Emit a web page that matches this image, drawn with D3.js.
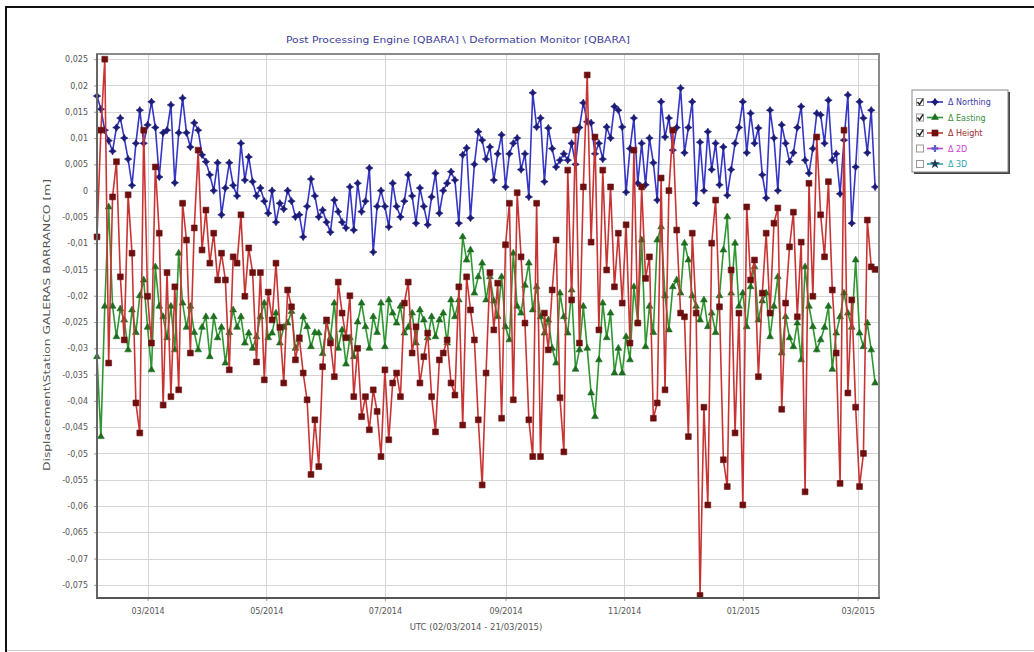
<!DOCTYPE html>
<html>
<head>
<meta charset="utf-8">
<script src="https://cdn.jsdelivr.net/npm/d3@7"></script>
<style>
body { margin: 0; background: #fff; }
svg { display: block; }
text { font-family: "DejaVu Sans", Verdana, sans-serif; }
</style>
</head>
<body>
<svg id="chart" width="1034" height="652"></svg>
<script>
// readings are every 2 days starting 03/02/2014, values in mm
var startDate = new Date(2014, 1, 3)
var stepDays = 2

var northing = [18, 15.5, 11.5, 9.5, 7.5, 12, 13.8, 10, 6, 1,
	9, 15.3, 9, 12.5, 16.9, 12, 2.6, 11, 11.5, 16.3,
	1.5, 11, 17.6, 11, 8.3, 12.9, 11.5, 6.8, 5.5, 3,
	0, 5.3, -4.6, 0.5, 5.3, 1, -1, 9, 2, 6.4,
	1.7, -1, 0.5, -2, -4.3, 0, -6, -2.4, -3.5, 0,
	-2, -5, -4.6, -8.8, -3, 2.2, -1, -5, -3.7, -6,
	-7.9, -1.8, -4, -6, -7.1, 0.7, -7.5, 1.4, -4, -2,
	4.3, -11.7, -3, 0, -3, -6.9, 1.4, -3, -5, -2,
	3, -1, -6.2, 0.5, -3, -6.5, -1.2, 3.3, -4.3, 0,
	1.4, 3.6, 2, -6.2, 6.8, 8.1, -5.2, 5, 11.2, 9.6,
	6, 8.3, 2, 7, 10.6, 0.7, 7, 9, 10, 4,
	7, -1.2, 18.6, 12.1, 13.8, 1.7, 11.9, 8, 4.5, 5.8,
	7, 5.8, 9, 5, 12, 16.7, 13.1, 12.9, 7, 9,
	6, 12.1, 10, 16, 15.3, 12.1, -0.3, 8, 13.8, 1.4,
	9, 1.1, 10, 5.3, -1.8, 16.9, 10.2, 13.8, 7.7, 12,
	19.5, 7.2, 12, 16.9, -2.4, 9.2, 0, 11.2, 4, 9,
	1.1, 8.3, -0.9, 4, 9, 12, 16.9, 7.2, 14.7, 9,
	11.9, 3, -1.4, 15.3, 10, 0, 12.5, 9, 5.5, 7.2,
	12, 16, 5.8, 3.3, 8, 14.7, 14.4, 9, 17.2, 5.8,
	7, -0.6, 9.6, 18.2, -6.2, 4.5, 16.9, 13.8, 7.2, 15.3,
	0.7]

var easting = [-31.6, -46.8, -22, -3.1, -22, -27.8, -22.5, -24.6, -30.3, -22.7,
	-27, -20, -17, -26, -34.1, -14.5, -22, -24, -28, -22,
	-30.3, -11.9, -21.4, -26, -22, -27, -30.3, -26, -24, -31.6,
	-24, -28, -26, -32.8, -27, -22.7, -26, -24, -29, -27.1,
	-30, -27.8, -24, -21.4, -28, -27.1, -23.3, -29, -26, -25.2,
	-23, -30, -28.4, -24, -25.9, -29.7, -27, -27.1, -31, -25,
	-28, -21.4, -30, -26.5, -33, -28, -31.6, -25, -21.4, -25.9,
	-30, -24, -27, -21.4, -29.7, -20.8, -23.3, -25.2, -22, -27.1,
	-26, -23.3, -29, -22.7, -24.6, -28, -24, -27.8, -24.6, -23.3,
	-29, -20.8, -24, -20.8, -8.8, -13.2, -11.3, -19.5, -16.4, -13.8,
	-20.8, -16.4, -21, -24, -16.4, -25.9, -28.4, -11.9, -22, -23.3,
	-18, -13.8, -22.7, -18.3, -24, -27.1, -24.6, -30, -32.8, -19.5,
	-24, -27.1, -18.9, -34, -30.3, -22, -30, -38.5, -43, -32.2,
	-21.4, -28, -23.3, -34.7, -30, -34.7, -27.8, -32.2, -18.3, -25,
	-9.4, -29.7, -22, -27, -9.4, -6.9, -20, -26.5, -18.3, -17,
	-19.5, -10, -13.2, -20, -22, -24.6, -20.8, -25.9, -23.3, -27,
	-20, -11.3, -5, -19.5, -10, -22, -19.5, -25.9, -18.3, -14.5,
	-24.6, -21, -19.5, -27.8, -22, -16.4, -30.9, -24, -28, -29.7,
	-25.2, -32.2, -14.5, -22, -25.9, -30.3, -28.4, -26, -22, -34,
	-27.1, -24, -19.5, -23.3, -26, -13.2, -27.1, -29.7, -25.2, -30.3,
	-36.6]

var height = [-8.8, 11.5, 25, -32.8, -1.2, 5.5, -16.4, -28.4, -0.8, -11.9,
	-40.4, -46.1, 11.5, -20.1, -29, 4.5, -8.1, -40.8, -15.6, -39.2,
	-18.3, -37.9, -2.4, -9.4, -30.9, -7.1, 7.7, -11.3, -3.7, -13.8,
	-8.1, -17, -11.9, -17, -34.1, -12.6, -13.8, -4.6, -20.1, -10.9,
	-15.6, -32.6, -15.6, -36, -19.3, -24.6, -13.8, -26, -36.6, -18.9,
	-22.1, -32.2, -28, -34.7, -39.8, -54, -43.6, -52.5, -33.5, -24.6,
	-29, -35.4, -17.4, -23.3, -28, -20, -39.2, -30, -43, -39.2,
	-45.5, -37.9, -42, -50.6, -34.1, -47.4, -36.6, -34.7, -39.2, -21.4,
	-17.4, -30.9, -25.9, -36.6, -31.6, -27.1, -39.2, -45.9, -32.2, -30.9,
	-28.4, -36.6, -38.9, -18.3, -44.6, -16.4, -22.7, -28.4, -43.6, -56,
	-34.7, -15.6, -26.5, -17.6, -43.3, -10.3, -2.4, -39.8, -0.4, -12.6,
	-25.2, -43.6, -50.6, -2.4, -50.6, -23.3, -30.3, -18.9, -9.4, -39.4,
	-49.7, 3.9, -20.8, 11.5, -29, 0.7, 22, -9.8, 10.2, -26.5,
	3.9, -15.1, 0.7, -18.3, -8.1, -21.4, -6.5, -29, 7.7, -25.2,
	0.7, -16.7, -12.6, -43.3, -40.4, 2.4, -37.9, 0, 11.5, -7.5,
	-23.3, -24, -46.8, -8.1, -23.3, -77, -41.2, -59.8, -10, -1.8,
	-22.1, -51.2, -56.3, -15.1, -46.1, -23.3, -59.8, -3.1, -17, -13.2,
	-35.4, -19.5, -8.1, -23.3, -6.2, -3.3, -41.6, -21.4, -10.7, -4.1,
	-24, -9.8, -57.3, 1.4, -20.1, 10.2, -4.6, -12.6, 1.7, -18.9,
	-30.9, -55.7, 11.5, -38.5, -20.8, -41.2, -56.3, -50, -5.6, -14.5,
	-15]

var yTicks = [25, 20, 15, 10, 5, 0, -5, -10, -15, -20, -25, -30, -35, -40, -45, -50, -55, -60, -65, -70, -75]
var yTickLabels = ["0,025", "0,02", "0,015", "0,01", "0,005", "0", "-0,005", "-0,01", "-0,015", "-0,02",
	"-0,025", "-0,03", "-0,035", "-0,04", "-0,045", "-0,05", "-0,055", "-0,06", "-0,065", "-0,07", "-0,075"]

var legendNames = ["\u0394 Northing", "\u0394 Easting", "\u0394 Height", "\u0394 2D", "\u0394 3D"]
var legendChecked = [true, true, true, false, false]

var titleText = "Post Processing Engine [QBARA] \\ Deformation Monitor [QBARA]"
var xTitle = "UTC (02/03/2014 - 21/03/2015)"
var yTitle = "Displacement\\Station GALERAS BARRANCO [m]"

// 4 pointed star used for the northing markers
var star4 = {
	draw: function(ctx, size) {
		var r = Math.sqrt(size) * 0.8, w = r * 0.38;
		ctx.moveTo(0, -r); ctx.lineTo(w, -w); ctx.lineTo(r, 0); ctx.lineTo(w, w);
		ctx.lineTo(0, r); ctx.lineTo(-w, w); ctx.lineTo(-r, 0); ctx.lineTo(-w, -w);
		ctx.closePath();
	}
}

function toPoints(values) {
	return values.map(function(v, i) {
		return { date: d3.timeDay.offset(startDate, i * stepDays), value: v };
	});
}

var series = [
	{ data: toPoints(northing), line: "#3636c4", mark: "#1b1b78", symbol: star4, size: 22, text: "#3b3ba8" },
	{ data: toPoints(easting), line: "#2f9632", mark: "#1d6e1f", symbol: d3.symbolTriangle, size: 20, text: "#35913a" },
	{ data: toPoints(height), line: "#c83434", mark: "#6e0f0f", symbol: d3.symbolSquare, size: 34, text: "#9a2a2a" },
	{ data: [], line: "#d040d0", mark: "#6060c0", symbol: d3.symbolCross, size: 20, text: "#d040d0" },
	{ data: [], line: "#30a0a0", mark: "#203a5a", symbol: d3.symbolStar, size: 24, text: "#30a8b0" }
]

var margin = { top: 55, right: 155, bottom: 54, left: 97 }
var width = 1034 - margin.left - margin.right
var height_ = 652 - margin.top - margin.bottom

var svg = d3.select("#chart")

// outer frame of the screenshot
svg.append("line").attr("x1", 6).attr("x2", 6).attr("y1", 6).attr("y2", 652)
	.attr("stroke", "#111").attr("stroke-width", 2)
svg.append("line").attr("x1", 5).attr("x2", 1034).attr("y1", 7).attr("y2", 7)
	.attr("stroke", "#111").attr("stroke-width", 2)
svg.append("line").attr("x1", 7).attr("x2", 1034).attr("y1", 650.5).attr("y2", 650.5)
	.attr("stroke", "#ccc").attr("stroke-width", 1)

var x = d3.scaleTime()
	.domain([new Date(2014, 1, 3), new Date(2015, 2, 12)])
	.range([0, width])

var y = d3.scaleLinear()
	.domain([-77.5, 25.8])
	.range([height_, 0])

var chartGroup = svg.append("g")
	.attr("transform", "translate(" + margin.left + "," + margin.top + ")")

chartGroup.append("rect")
	.attr("width", width).attr("height", height_)
	.attr("fill", "#fff")

// grid
var xTicks = x.ticks(d3.timeMonth.every(2))
chartGroup.append("g").selectAll("line")
	.data(yTicks).enter().append("line")
	.attr("x1", 0).attr("x2", width)
	.attr("y1", d => Math.round(y(d)) + 0.5).attr("y2", d => Math.round(y(d)) + 0.5)
	.attr("stroke", "#d4d4d4")
chartGroup.append("g").selectAll("line")
	.data(xTicks).enter().append("line")
	.attr("y1", 0).attr("y2", height_)
	.attr("x1", d => Math.round(x(d)) + 0.5).attr("x2", d => Math.round(x(d)) + 0.5)
	.attr("stroke", "#d4d4d4")

var yAxis = d3.axisLeft(y)
	.tickValues(yTicks)
	.tickFormat((d, i) => yTickLabels[i])
	.tickSize(3)
	.tickPadding(6)
var yAxisG = chartGroup.append("g").call(yAxis)
yAxisG.select(".domain").remove()
yAxisG.selectAll("line").attr("stroke", "#999")
yAxisG.selectAll("text").attr("font-size", 8).attr("fill", "#555")

var xAxis = d3.axisBottom(x)
	.tickValues(xTicks)
	.tickFormat(d3.timeFormat("%m/%Y"))
	.tickSize(3)
	.tickPadding(7)
var xAxisG = chartGroup.append("g")
	.attr("transform", "translate(0," + height_ + ")")
	.call(xAxis)
xAxisG.select(".domain").remove()
xAxisG.selectAll("line").attr("stroke", "#999")
xAxisG.selectAll("text").attr("font-size", 8).attr("fill", "#555")

// series
var line = d3.line()
	.x(d => x(d.date))
	.y(d => y(d.value))

series.slice(0, 3).forEach(function(s) {
	chartGroup.append("path")
		.datum(s.data)
		.attr("fill", "none")
		.attr("stroke", s.line)
		.attr("stroke-width", 1.6)
		.attr("d", line)
	chartGroup.append("g").selectAll("path")
		.data(s.data).enter().append("path")
		.attr("transform", d => "translate(" + x(d.date) + "," + y(d.value) + ")")
		.attr("d", d3.symbol().type(s.symbol).size(s.size))
		.attr("fill", s.mark)
		.attr("stroke", s.mark)
		.attr("stroke-width", 0.6)
})

// plot border
chartGroup.append("rect")
	.attr("x", 0).attr("y", -1).attr("width", width).attr("height", height_ + 1)
	.attr("fill", "none").attr("stroke", "#8a8a8a").attr("stroke-width", 2)
chartGroup.append("line")
	.attr("x1", -1).attr("x2", width + 1).attr("y1", height_).attr("y2", height_)
	.attr("stroke", "#555").attr("stroke-width", 2)
chartGroup.append("line")
	.attr("x1", 0).attr("x2", 0).attr("y1", -1).attr("y2", height_)
	.attr("stroke", "#666").attr("stroke-width", 2)

// titles
svg.append("text")
	.attr("x", 458).attr("y", 43)
	.attr("text-anchor", "middle")
	.attr("font-size", 8.5).attr("fill", "#3d3d9a")
	.attr("textLength", 344).attr("lengthAdjust", "spacingAndGlyphs")
	.text(titleText)

svg.append("text")
	.attr("x", 476).attr("y", 630)
	.attr("text-anchor", "middle")
	.attr("font-size", 8.5).attr("fill", "#555")
	.text(xTitle)

svg.append("text")
	.attr("transform", "translate(50,325) rotate(-90)")
	.attr("text-anchor", "middle")
	.attr("font-size", 8.5).attr("fill", "#555")
	.attr("textLength", 292).attr("lengthAdjust", "spacingAndGlyphs")
	.text(yTitle)

// legend
var legend = svg.append("g").attr("transform", "translate(912,90)")
legend.append("rect")
	.attr("x", 2).attr("y", 2).attr("width", 96).attr("height", 82)
	.attr("fill", "#444")
legend.append("rect")
	.attr("width", 96).attr("height", 82)
	.attr("fill", "#fff").attr("stroke", "#888")

var rows = legend.selectAll(".row")
	.data(legendNames).enter().append("g")
	.attr("class", "row")
	.attr("transform", (d, i) => "translate(0," + (12 + i * 15.5) + ")")

rows.append("rect")
	.attr("x", 4.5).attr("y", -3.5).attr("width", 7).attr("height", 7)
	.attr("fill", "#fff").attr("stroke", "#999")
rows.filter((d, i) => legendChecked[i]).append("path")
	.attr("d", "M5.5,0 L7.5,2.5 L11,-3")
	.attr("fill", "none").attr("stroke", "#222").attr("stroke-width", 1.4)
rows.append("line")
	.attr("x1", 15).attr("x2", 31).attr("y1", 0).attr("y2", 0)
	.attr("stroke", (d, i) => series[i].line).attr("stroke-width", 1.6)
rows.append("path")
	.attr("transform", "translate(23,0)")
	.attr("d", (d, i) => d3.symbol().type(series[i].symbol).size(series[i].size * 1.3)())
	.attr("fill", (d, i) => series[i].mark)
rows.append("text")
	.attr("x", 36).attr("y", 3)
	.attr("font-size", 8)
	.attr("fill", (d, i) => series[i].text)
	.text(d => d)
</script>
</body>
</html>
